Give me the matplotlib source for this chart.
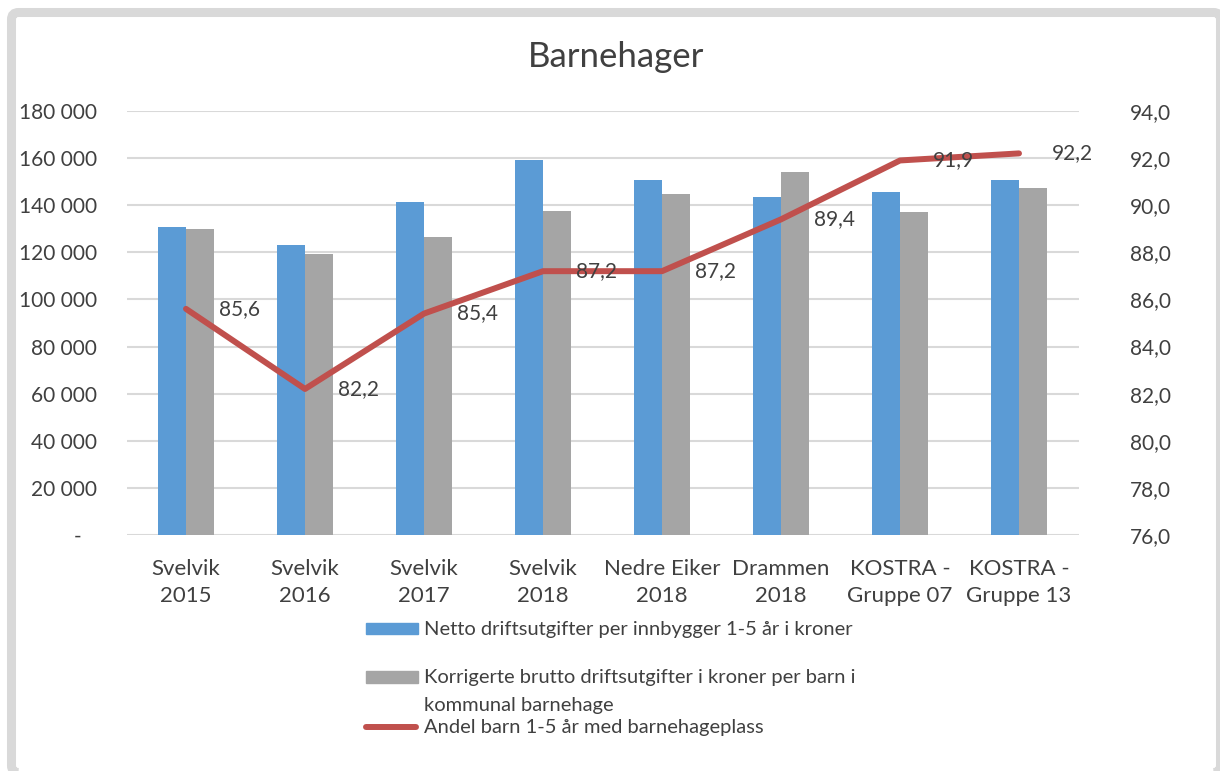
import matplotlib
matplotlib.use("Agg")
import matplotlib.pyplot as plt
import numpy as np
from matplotlib.patches import Rectangle, FancyBboxPatch
from matplotlib.lines import Line2D
from matplotlib.ticker import FuncFormatter, MultipleLocator

plt.rcParams['font.family'] = ['Lato', 'DejaVu Sans']

kategorier = ["Svelvik\n2015", "Svelvik\n2016", "Svelvik\n2017", "Svelvik\n2018",
              "Nedre Eiker\n2018", "Drammen\n2018", "KOSTRA -\nGruppe 07", "KOSTRA -\nGruppe 13"]
netto = [130800, 123150, 141550, 159100, 150900, 143400, 145650, 150600]
korrigert = [129950, 119200, 126550, 137750, 144800, 154000, 137150, 147200]
andel = [85.6, 82.2, 85.4, 87.2, 87.2, 89.4, 91.9, 92.2]

navn_netto = "Netto driftsutgifter per innbygger 1-5 år i kroner"
navn_korr = ["Korrigerte brutto driftsutgifter i kroner per barn i", "kommunal barnehage"]
navn_andel = "Andel barn 1-5 år med barnehageplass"

BLA = '#5B9BD5'
GRA = '#A5A5A5'
ROD = '#C0504D'
TEKST = '#404040'
W, H = 1220, 771


def fx(x):
    return x / W


def fy(y):
    return 1 - y / H


fig = plt.figure(figsize=(12.2, 7.71), dpi=100)
ax = fig.add_axes([fx(126.5), fy(535), fx(1078.5) - fx(126.5), fy(111) - fy(535)])
ax2 = ax.twinx()

x = np.arange(len(kategorier))
bw = 0.235
ax.bar(x - bw / 2, netto, bw, color=BLA, zorder=2)
ax.bar(x + bw / 2, korrigert, bw, color=GRA, zorder=2)

ax.set_xlim(-0.5, len(kategorier) - 0.5)
ax.set_ylim(0, 180000)
ax.yaxis.set_major_locator(MultipleLocator(20000))
ax.yaxis.set_major_formatter(FuncFormatter(
    lambda v, p: "-   " if v == 0 else f"{int(v):,}".replace(",", " ")))
ax.grid(axis='y', color='#D9D9D9', lw=1.5, zorder=0)
ax.set_axisbelow(True)
ax.set_xticks(x)
ax.set_xticklabels(kategorier, linespacing=1.45)
ax.tick_params(axis='x', length=0, pad=17, labelsize=16, labelcolor=TEKST)
ax.tick_params(axis='y', length=0, pad=21, labelsize=15, labelcolor=TEKST)

ax2.plot(x, andel, color=ROD, lw=4.3, solid_capstyle='round', solid_joinstyle='round', zorder=3)
ax2.set_ylim(76, 94)
ax2.yaxis.set_major_locator(MultipleLocator(2))
ax2.yaxis.set_major_formatter(FuncFormatter(lambda v, p: f"{v:.1f}".replace(".", ",")))
ax2.tick_params(axis='y', length=0, pad=37, labelsize=15, labelcolor=TEKST)

for xi, v in zip(x, andel):
    ax2.annotate(f"{v:.1f}".replace(".", ","), (xi, v), xytext=(24, 0),
                 textcoords='offset points', ha='left', va='center',
                 fontsize=15, color=TEKST)

for a in (ax, ax2):
    for s in a.spines.values():
        s.set_visible(False)

fig.text(fx(616.5), fy(57), "Barnehager", ha='center', va='center', fontsize=25, color=TEKST)

# forklaring
fig.add_artist(Rectangle((fx(366), fy(634.3)), fx(52), fy(622.7) - fy(634.3),
                         transform=fig.transFigure, color=BLA))
fig.add_artist(Rectangle((fx(366), fy(683.3)), fx(52), fy(670.7) - fy(683.3),
                         transform=fig.transFigure, color=GRA))
fig.add_artist(Line2D([fx(366), fx(416)], [fy(726.7), fy(726.7)], transform=fig.transFigure,
                      color=ROD, lw=4.3, solid_capstyle='round'))
fig.text(fx(423.7), fy(629), navn_netto, ha='left', va='center', fontsize=14.5, color=TEKST)
fig.text(fx(423.7), fy(678), navn_korr[0], ha='left', va='center', fontsize=14.5, color=TEKST)
fig.text(fx(423.7), fy(706), navn_korr[1], ha='left', va='center', fontsize=14.5, color=TEKST)
fig.text(fx(423.7), fy(728), navn_andel, ha='left', va='center', fontsize=14.5, color=TEKST)

# ramme
ramme = FancyBboxPatch((0.115, -0.015), 12.09, 7.60, boxstyle="round,pad=0,rounding_size=0.07",
                       transform=fig.dpi_scale_trans, fill=False, ec='#D9D9D9', lw=6.5,
                       clip_on=False)
fig.add_artist(ramme)

fig.savefig("out.png", dpi=100, facecolor='white')
